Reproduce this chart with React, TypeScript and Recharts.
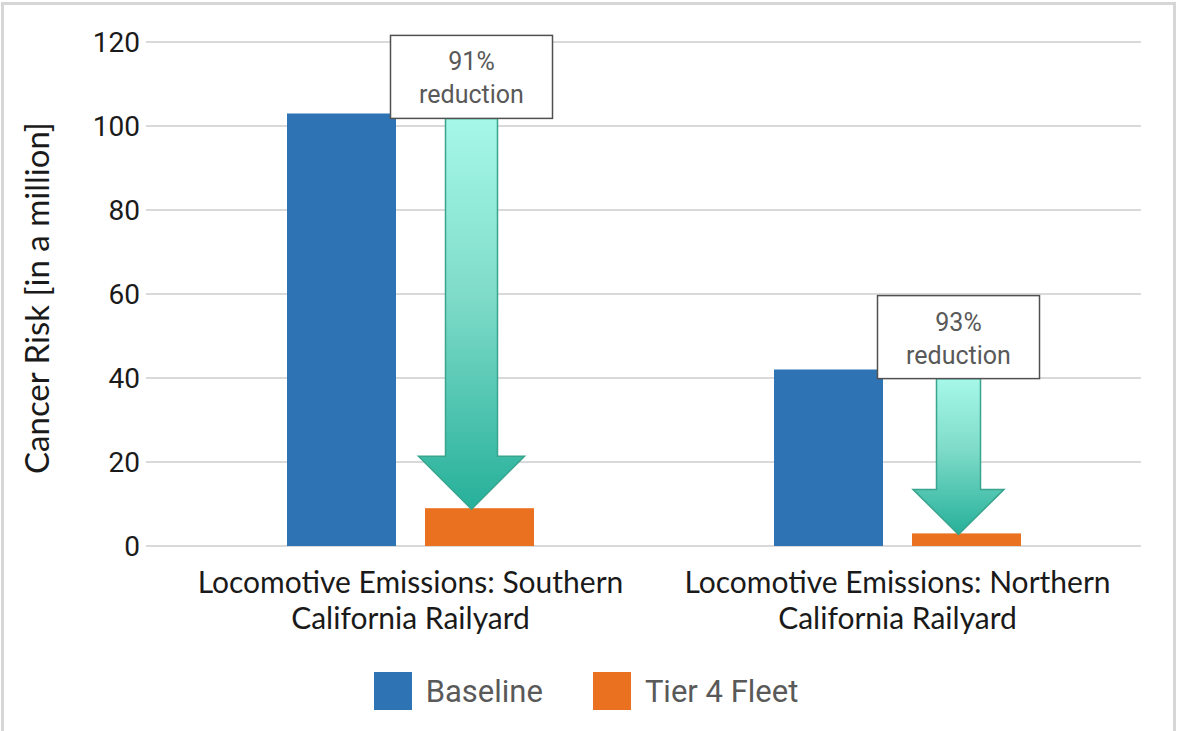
import React from 'react'
import { BarChart, Bar, XAxis, YAxis, CartesianGrid, Legend } from 'recharts'

const CATEGORIES = [
  'Locomotive Emissions: Southern California Railyard',
  'Locomotive Emissions: Northern California Railyard',
]
const BASELINE = [103, 42]
const TIER4 = [9, 3]
const REDUCTION_LABELS = ['91%', '93%']
const Y_TICKS = [0, 20, 40, 60, 80, 100, 120]

const BLUE = '#2e74b5'
const ORANGE = '#e97120'
const GREY_TEXT = '#595959'

// arrow sizes differ per group in the source picture
const ARROW_SIZES = [
  { shaft: 52, head: 106, headH: 53, boxGap: 5 },
  { shaft: 44, head: 91, headH: 45, boxGap: 9 },
]

const data = CATEGORIES.map((name, i) => ({
  name,
  baseline: BASELINE[i],
  tier4: TIER4[i],
  reduction: REDUCTION_LABELS[i],
}))

function wrapWords(text: string, max: number) {
  const lines: string[] = []
  let cur = ''
  text.split(' ').forEach((w) => {
    const next = cur ? cur + ' ' + w : w
    if (next.length > max && cur) {
      lines.push(cur)
      cur = w
    } else {
      cur = next
    }
  })
  if (cur) lines.push(cur)
  return lines
}

function CategoryTick({ x, y, payload }: any) {
  const lines = wrapWords(String(payload.value), 32)
  return (
    <text
      x={x}
      y={y}
      textAnchor="middle"
      fontFamily="Lato, sans-serif"
      fontSize={30}
      fill="#1a1a1a"
    >
      {lines.map((l, i) => (
        <tspan key={i} x={x} dy={i === 0 ? 47 : 36}>
          {l}
        </tspan>
      ))}
    </text>
  )
}

function YLabel({ viewBox }: any) {
  const cx = viewBox.x + 36
  const cy = viewBox.y + viewBox.height / 2 + 4
  return (
    <text
      x={cx}
      y={cy}
      transform={`rotate(-90, ${cx}, ${cy})`}
      textAnchor="middle"
      dominantBaseline="central"
      fontFamily="Lato, sans-serif"
      fontSize={33}
      fill="#1a1a1a"
    >
      Cancer Risk [in a million]
    </text>
  )
}

// orange bar plus the reduction arrow and its callout box
function Tier4Shape(props: any) {
  const { x, y, width, height, payload, index } = props
  const size = ARROW_SIZES[index] || ARROW_SIZES[0]
  const zeroY = y + height
  const pxPerUnit = payload.tier4 ? height / payload.tier4 : 0
  const baseTop = zeroY - payload.baseline * pxPerUnit
  const cx = x + width / 2 - 8
  const boxW = 162
  const boxH = 83
  const boxBottom = baseTop + size.boxGap
  const boxTop = boxBottom - boxH
  const tipY = y + 1
  const headTop = tipY - size.headH
  const s = size.shaft / 2
  const h = size.head / 2
  const gid = `arrowGrad${index}`
  const arrow = [
    [cx - s, boxBottom],
    [cx + s, boxBottom],
    [cx + s, headTop],
    [cx + h, headTop],
    [cx, tipY],
    [cx - h, headTop],
    [cx - s, headTop],
  ]
    .map((p) => p.join(','))
    .join(' ')
  return (
    <g>
      <defs>
        <linearGradient id={gid} x1="0" y1="0" x2="0" y2="1">
          <stop offset="0%" stopColor="#a6f8e8" />
          <stop offset="45%" stopColor="#7fdcc9" />
          <stop offset="100%" stopColor="#26b09a" />
        </linearGradient>
      </defs>
      <rect x={x} y={y} width={width} height={height} fill={ORANGE} />
      <polygon points={arrow} fill={`url(#${gid})`} stroke="#39a58e" strokeWidth={1.5} />
      <rect
        x={cx - boxW / 2}
        y={boxTop}
        width={boxW}
        height={boxH}
        fill="#ffffff"
        stroke="#505050"
        strokeWidth={1.5}
      />
      <text
        x={cx}
        textAnchor="middle"
        fontFamily="Roboto, sans-serif"
        fontSize={25}
        fill={GREY_TEXT}
      >
        <tspan x={cx} y={boxTop + 35}>
          {payload.reduction}
        </tspan>
        <tspan x={cx} y={boxTop + 68}>
          reduction
        </tspan>
      </text>
    </g>
  )
}

function LegendContent() {
  const items = [
    { label: 'Baseline', color: BLUE },
    { label: 'Tier 4 Fleet', color: ORANGE },
  ]
  return (
    <div
      style={{
        height: 60,
        display: 'flex',
        alignItems: 'center',
        justifyContent: 'center',
        gap: 50,
        paddingRight: 6,
        fontFamily: 'Roboto, sans-serif',
        fontSize: 31,
        color: GREY_TEXT,
      }}
    >
      {items.map((it) => (
        <div key={it.label} style={{ display: 'flex', alignItems: 'center', gap: 14 }}>
          <div style={{ width: 38, height: 38, background: it.color }} />
          <span>{it.label}</span>
        </div>
      ))}
    </div>
  )
}

export default function App() {
  return (
    <div
      style={{
        position: 'absolute',
        left: 0,
        top: 0,
        width: 1178,
        height: 731,
        overflow: 'hidden',
        background: '#ffffff',
      }}
    >
      <BarChart
        width={1178}
        height={731}
        data={data}
        margin={{ top: 42, right: 37, left: 0, bottom: 10 }}
        barGap={29}
      >
        <CartesianGrid vertical={false} stroke="#d9d9d9" strokeWidth={2} />
        <XAxis
          dataKey="name"
          axisLine={false}
          tickLine={false}
          tickSize={0}
          tickMargin={0}
          height={115}
          padding={{ left: 21, right: 0 }}
          tick={<CategoryTick />}
          interval={0}
        />
        <YAxis
          width={146}
          domain={[0, 120]}
          ticks={Y_TICKS}
          axisLine={false}
          tickLine={false}
          tickMargin={0}
          tick={{ fontFamily: 'Roboto, sans-serif', fontSize: 28, fill: '#1a1a1a' }}
          label={<YLabel />}
        />
        <Legend
          verticalAlign="bottom"
          content={<LegendContent />}
          wrapperStyle={{ left: 0, width: 1178 }}
        />
        <Bar dataKey="baseline" name="Baseline" fill={BLUE} barSize={109} isAnimationActive={false} />
        <Bar
          dataKey="tier4"
          name="Tier 4 Fleet"
          fill={ORANGE}
          barSize={109}
          shape={<Tier4Shape />}
          isAnimationActive={false}
        />
      </BarChart>
      <div
        style={{
          position: 'absolute',
          left: 1,
          top: 2,
          width: 1175,
          height: 760,
          border: '3px solid #d6d6d6',
          borderBottom: 'none',
          boxSizing: 'border-box',
          pointerEvents: 'none',
        }}
      />
    </div>
  )
}
